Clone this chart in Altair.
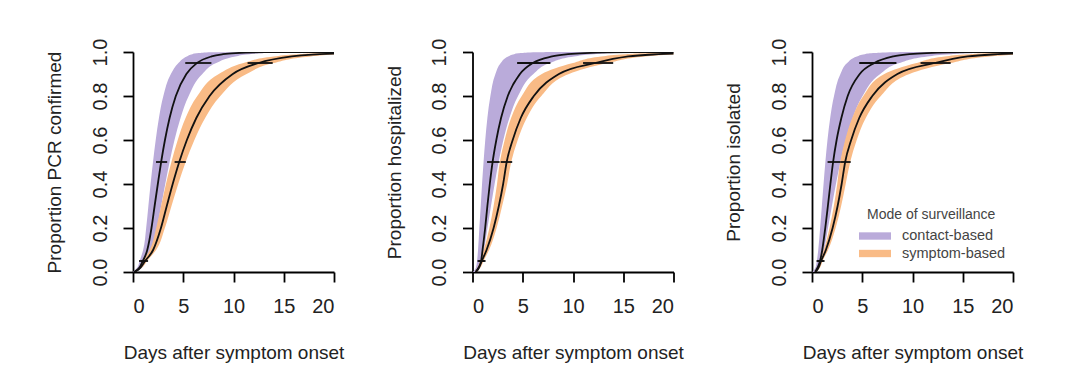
import altair as alt
import pandas as pd

# probability levels at which the curves are read (quantile form: day reached at each level)
P = [0, 0.02, 0.05, 0.1, 0.2, 0.3, 0.4, 0.5, 0.6, 0.7, 0.8, 0.9, 0.95, 0.98, 0.99, 0.995, 0.999, 1.0]

# Panel 1: PCR confirmed
pcr_contact_fast = [0.0, 0.42, 0.66, 1.01, 1.31, 1.53, 1.75, 1.99, 2.26, 2.58, 3.02, 3.77, 4.52, 5.35, 5.9, 6.5, 7.8, 30]
pcr_contact_med = [0.1, 0.65, 0.98, 1.42, 1.84, 2.15, 2.47, 2.80, 3.18, 3.64, 4.26, 5.31, 6.37, 7.82, 8.96, 10.2, 13.1, 30]
pcr_contact_slow = [0.3, 0.9, 1.3, 1.85, 2.39, 2.80, 3.21, 3.64, 4.13, 4.73, 5.54, 6.90, 8.28, 10.2, 11.6, 13.3, 17.0, 30]
pcr_symptom_fast = [0.1, 0.6, 1.0, 1.66, 2.31, 2.79, 3.28, 3.82, 4.45, 5.23, 6.40, 8.54, 11.0, 14.0, 16.5, 19.2, 26, 40]
pcr_symptom_med = [0.15, 0.75, 1.2, 2.0, 2.78, 3.36, 3.95, 4.60, 5.36, 6.30, 7.62, 9.93, 12.5, 15.8, 18.6, 21.6, 29.4, 40]
pcr_symptom_slow = [0.25, 0.9, 1.4, 2.3, 3.17, 3.83, 4.50, 5.24, 6.11, 7.18, 8.69, 11.3, 14.0, 17.7, 20.8, 24.2, 33, 40]

# Panel 2: hospitalized
hosp_contact_fast = [0.05, 0.35, 0.45, 0.55, 0.68, 0.82, 0.95, 1.10, 1.27, 1.48, 1.78, 2.28, 2.81, 3.55, 4.14, 4.77, 6.4, 30]
hosp_contact_med = [0.3, 0.6, 0.86, 1.0, 1.26, 1.48, 1.72, 2.0, 2.37, 2.84, 3.51, 4.72, 6.0, 7.92, 9.5, 11.2, 15.9, 30]
hosp_contact_slow = [0.4, 0.75, 1.0, 1.15, 1.49, 1.84, 2.20, 2.60, 3.07, 3.67, 4.53, 6.06, 7.70, 10.1, 12.1, 14.2, 20, 30]
hosp_symptom_fast = [0.25, 0.5, 0.75, 1.12, 1.68, 2.1, 2.44, 2.72, 3.2, 3.84, 4.9, 6.9, 10.0, 12.8, 15.3, 17.8, 25, 40]
hosp_symptom_med = [0.35, 0.65, 0.92, 1.4, 2.1, 2.62, 3.05, 3.4, 4.0, 4.8, 6.1, 8.6, 12.2, 15.5, 18.5, 21.5, 30, 40]
hosp_symptom_slow = [0.45, 0.8, 1.1, 1.65, 2.4, 2.95, 3.45, 3.85, 4.5, 5.4, 6.85, 9.6, 13.5, 17.2, 20.5, 24, 33, 40]

# Panel 3: isolated
iso_contact_fast = [0.05, 0.35, 0.48, 0.62, 0.81, 0.98, 1.15, 1.33, 1.54, 1.81, 2.19, 2.83, 3.5, 4.47, 5.25, 6.08, 8.2, 30]
iso_contact_med = [0.3, 0.55, 0.8, 1.02, 1.32, 1.58, 1.83, 2.1, 2.45, 2.92, 3.55, 4.75, 6.2, 8.1, 9.7, 11.4, 16, 30]
iso_contact_slow = [0.4, 0.7, 0.95, 1.2, 1.59, 1.98, 2.38, 2.83, 3.36, 4.05, 5.03, 6.79, 8.7, 11.5, 13.9, 16.4, 23.4, 30]
iso_symptom_fast = [0.25, 0.55, 0.77, 1.17, 1.74, 2.17, 2.51, 2.8, 3.3, 4.0, 5.1, 7.2, 10.4, 13.2, 15.7, 18.3, 25.5, 40]
iso_symptom_med = [0.35, 0.65, 0.9, 1.38, 2.05, 2.55, 2.95, 3.3, 3.9, 4.7, 6.0, 8.5, 12.2, 15.5, 18.5, 21.5, 30, 40]
iso_symptom_slow = [0.45, 0.8, 1.05, 1.6, 2.35, 2.9, 3.35, 3.8, 4.45, 5.35, 6.85, 9.7, 13.8, 17.7, 21, 24.5, 34, 40]

# Interval bars at the 5%, 50% and 95% levels
BAR_P = [0.05, 0.5, 0.95]
pcr_contact_lo = [0.6, 2.29, 5.2]
pcr_contact_hi = [1.3, 3.40, 7.8]
pcr_symptom_lo = [0.8, 4.14, 11.4]
pcr_symptom_hi = [1.5, 5.25, 13.9]
hosp_contact_lo = [0.5, 1.45, 4.44]
hosp_contact_hi = [1.2, 2.7, 7.75]
hosp_symptom_lo = [0.6, 2.8, 11.0]
hosp_symptom_hi = [1.3, 3.95, 14.0]
iso_contact_lo = [0.45, 1.55, 4.7]
iso_contact_hi = [1.15, 2.8, 8.4]
iso_symptom_lo = [0.55, 2.8, 10.8]
iso_symptom_hi = [1.25, 3.85, 13.8]

MODES = ["contact-based", "symptom-based"]
COLORS = ["#baabda", "#f9bb86"]
X_TICKS = [0, 5, 10, 15, 20]
Y_TICKS = [0, 0.2, 0.4, 0.6, 0.8, 1.0]
FONT = "Liberation Sans"


def panel(ytitle, cf, cm, cs, sf, sm, ss, clo, chi, slo, shi, legend):
    n = len(P)
    band = pd.DataFrame({
        "mode": [MODES[0]] * n + [MODES[1]] * n,
        "p": P + P,
        "fast": cf + sf,
        "slow": cs + ss,
    })
    med = pd.DataFrame({
        "mode": [MODES[0]] * n + [MODES[1]] * n,
        "p": P + P,
        "day": cm + sm,
    })
    bars = pd.DataFrame({
        "mode": [MODES[0]] * 3 + [MODES[1]] * 3,
        "p": BAR_P + BAR_P,
        "lo": clo + slo,
        "hi": chi + shi,
    })
    xsc = alt.Scale(domain=[0, 20], nice=False, zero=False)
    ysc = alt.Scale(domain=[0, 1], nice=False, zero=False)
    xaxis = alt.Axis(values=X_TICKS, format="d", title="Days after symptom onset",
                     titleX=100.5, titleY=86, titleBaseline="alphabetic",
                     labelBaseline="alphabetic", labelPadding=30)
    yaxis = alt.Axis(values=Y_TICKS, format=".1f", title=ytitle,
                     labelAngle=270, labelAlign="center", labelBaseline="alphabetic",
                     labelPadding=17, titleX=-72.5, titleY=110, titleBaseline="alphabetic",
                     titleAngle=270, titleAlign="center")
    if legend:
        leg = alt.Legend(title="Mode of surveillance", orient="none", legendX=55, legendY=156,
                         symbolType="M-2,-0.46H2V0.46H-2Z", symbolSize=256,
                         symbolStrokeWidth=0, symbolOpacity=1,
                         labelOffset=19, labelFontSize=14.5, titleFontSize=14,
                         titleFontWeight="normal", labelFont=FONT, titleFont=FONT,
                         labelColor="#444", titleColor="#444", rowPadding=2.5,
                         titlePadding=6, padding=0, titleAnchor="start")
    else:
        leg = None
    color = alt.Color("mode:N", scale=alt.Scale(domain=MODES, range=COLORS), legend=leg)

    b = alt.Chart(band).mark_area(orient="horizontal", interpolate="monotone", clip=True,
                                  opacity=1).encode(
        y=alt.Y("p:Q", scale=ysc, axis=yaxis),
        x=alt.X("fast:Q", scale=xsc, axis=xaxis),
        x2="slow:Q",
        color=color,
    )
    l = alt.Chart(med).mark_line(color="#111", strokeWidth=1.8, interpolate="monotone",
                                 clip=True).encode(
        x=alt.X("day:Q", scale=xsc),
        y=alt.Y("p:Q", scale=ysc),
        detail="mode:N",
        order="p:Q",
    )
    r = alt.Chart(bars).mark_rule(color="#111", strokeWidth=1.8).encode(
        x=alt.X("lo:Q", scale=xsc),
        x2="hi:Q",
        y=alt.Y("p:Q", scale=ysc),
    )
    return alt.layer(b, l, r).properties(width=201, height=220)


p1 = panel("Proportion PCR confirmed", pcr_contact_fast, pcr_contact_med, pcr_contact_slow,
           pcr_symptom_fast, pcr_symptom_med, pcr_symptom_slow,
           pcr_contact_lo, pcr_contact_hi, pcr_symptom_lo, pcr_symptom_hi, False)
p2 = panel("Proportion hospitalized", hosp_contact_fast, hosp_contact_med, hosp_contact_slow,
           hosp_symptom_fast, hosp_symptom_med, hosp_symptom_slow,
           hosp_contact_lo, hosp_contact_hi, hosp_symptom_lo, hosp_symptom_hi, False)
p3 = panel("Proportion isolated", iso_contact_fast, iso_contact_med, iso_contact_slow,
           iso_symptom_fast, iso_symptom_med, iso_symptom_slow,
           iso_contact_lo, iso_contact_hi, iso_symptom_lo, iso_symptom_hi, True)

chart = alt.hconcat(p1, p2, p3, spacing=40.5).resolve_scale(color="independent").properties(
    padding={"left": 37, "top": 30, "right": 10, "bottom": 5},
    background="white",
).configure_view(stroke=None).configure_axis(
    domainColor="black", domainWidth=1.8, tickColor="black", tickWidth=1.8, tickSize=10,
    labelFont=FONT, labelFontSize=20, titleFont=FONT, titleFontSize=19,
    titleFontWeight="normal", labelColor="#222", titleColor="#222", grid=False,
)

chart.save("out.html", embed_options={"renderer": "svg", "actions": False})
